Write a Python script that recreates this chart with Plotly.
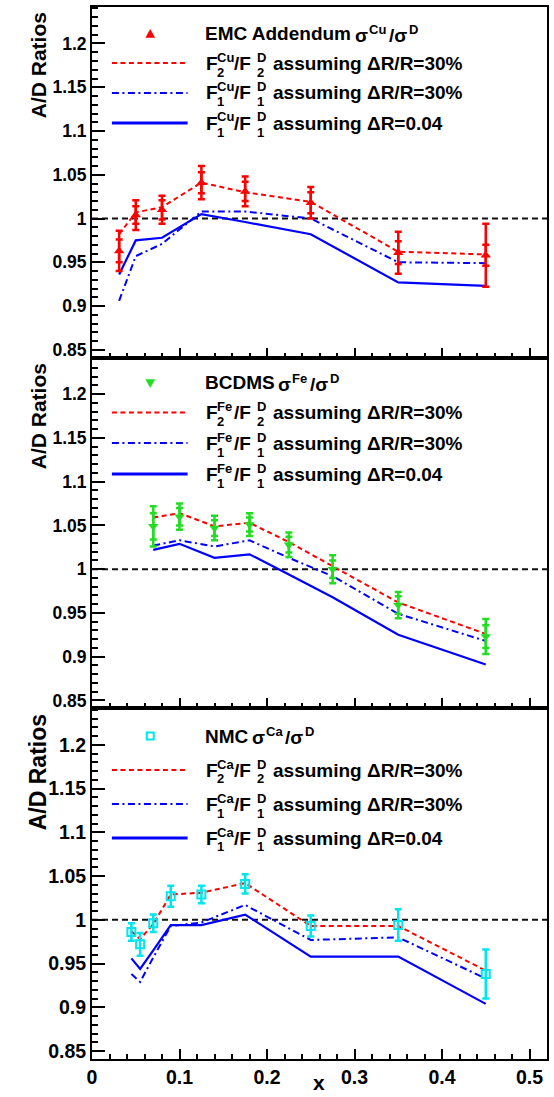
import plotly.graph_objects as go
from plotly.subplots import make_subplots

# ---------------- data ----------------
# Panel 1: EMC addendum, Cu/D
emc_x = [0.031, 0.05, 0.08, 0.125, 0.175, 0.25, 0.35, 0.45]
emc_ratio = [0.963, 1.004, 1.010, 1.041, 1.031, 1.018, 0.961, 0.958]
emc_err_tot = [0.023, 0.017, 0.016, 0.019, 0.017, 0.018, 0.024, 0.036]
emc_err_stat = [0.013, 0.010, 0.011, 0.012, 0.011, 0.012, 0.013, 0.012]
emc_f2 = [0.982, 1.007, 1.013, 1.041, 1.030, 1.019, 0.962, 0.959]
emc_f1_rel = [0.906, 0.957, 0.971, 1.008, 1.008, 1.000, 0.950, 0.949]
emc_f1_abs = [0.936, 0.975, 0.978, 1.005, 0.996, 0.982, 0.927, 0.923]

# Panel 2: BCDMS, Fe/D
bcdms_x = [0.07, 0.10, 0.14, 0.18, 0.225, 0.275, 0.35, 0.45]
bcdms_ratio = [1.049, 1.060, 1.047, 1.051, 1.028, 1.000, 0.959, 0.923]
bcdms_err_tot = [0.023, 0.015, 0.014, 0.013, 0.014, 0.016, 0.015, 0.020]
bcdms_err_stat = [0.015, 0.010, 0.009, 0.008, 0.009, 0.010, 0.010, 0.013]
bcdms_f2 = [1.059, 1.064, 1.049, 1.053, 1.031, 1.003, 0.962, 0.926]
bcdms_f1_rel = [1.027, 1.033, 1.026, 1.033, 1.013, 0.992, 0.949, 0.918]
bcdms_f1_abs = [1.022, 1.029, 1.013, 1.017, 0.994, 0.968, 0.925, 0.891]

# Panel 3: NMC, Ca/D
nmc_x = [0.045, 0.055, 0.07, 0.09, 0.125, 0.175, 0.25, 0.35, 0.45]
nmc_ratio = [0.986, 0.972, 0.996, 1.027, 1.029, 1.041, 0.993, 0.994, 0.938]
nmc_err = [0.010, 0.013, 0.010, 0.012, 0.010, 0.011, 0.012, 0.018, 0.028]
nmc_f2 = [0.987, 0.978, 0.995, 1.029, 1.031, 1.042, 0.993, 0.993, 0.942]
nmc_f1_rel = [0.938, 0.929, 0.957, 0.993, 0.997, 1.017, 0.977, 0.980, 0.933]
nmc_f1_abs = [0.956, 0.944, 0.965, 0.994, 0.994, 1.006, 0.958, 0.958, 0.904]

y_tick_vals = [0.85, 0.9, 0.95, 1.0, 1.05, 1.1, 1.15, 1.2]
y_tick_text = ["0.85", "0.9", "0.95", "1", "1.05", "1.1", "1.15", "1.2"]
x_tick_vals = [0, 0.1, 0.2, 0.3, 0.4, 0.5]
x_tick_text = ["0", "0.1", "0.2", "0.3", "0.4", "0.5"]

data_labels = ["EMC Addendum", "BCDMS", "NMC"]
nuclei = ["Cu", "Fe", "Ca"]

# ---------------- style ----------------
W, H = 554, 1097
ML, MR, MT, MB = 92, 5, 7, 38
PW = W - ML - MR
PH = H - MT - MB
FONT = "Liberation Sans, Arial, Helvetica, sans-serif"
RED = "#ff0000"
BLUE = "#0000ff"
GREEN = "#22dd22"
CYAN = "#00e5ee"
DASH_RED = "5px,3.5px"
DASH_BLUE = "7px,3.5px,2px,3.5px"


def pxx(xp):
    return (xp - ML) / PW


def pxy(yp):
    return (H - MB - yp) / PH


fig = make_subplots(rows=3, cols=1, shared_xaxes=True, vertical_spacing=0)

panels = [
    dict(x=emc_x, r=emc_ratio, et=emc_err_tot, es=emc_err_stat, f2=emc_f2,
         f1r=emc_f1_rel, f1a=emc_f1_abs, sym="triangle-up", col=RED, size=9),
    dict(x=bcdms_x, r=bcdms_ratio, et=bcdms_err_tot, es=bcdms_err_stat, f2=bcdms_f2,
         f1r=bcdms_f1_rel, f1a=bcdms_f1_abs, sym="triangle-down", col=GREEN, size=9),
    dict(x=nmc_x, r=nmc_ratio, et=nmc_err, es=None, f2=nmc_f2,
         f1r=nmc_f1_rel, f1a=nmc_f1_abs, sym="square-open", col=CYAN, size=8),
]

for i, p in enumerate(panels):
    row = i + 1
    fig.add_trace(go.Scatter(x=p["x"], y=p["f2"], mode="lines",
                             line=dict(color=RED, width=2, dash=DASH_RED)), row=row, col=1)
    fig.add_trace(go.Scatter(x=p["x"], y=p["f1r"], mode="lines",
                             line=dict(color=BLUE, width=2, dash=DASH_BLUE)), row=row, col=1)
    fig.add_trace(go.Scatter(x=p["x"], y=p["f1a"], mode="lines",
                             line=dict(color=BLUE, width=2.2)), row=row, col=1)
    if p["es"] is not None:
        fig.add_trace(go.Scatter(x=p["x"], y=p["r"], mode="markers",
                                 marker=dict(size=1, color=p["col"]),
                                 error_y=dict(type="data", array=p["es"], color=p["col"],
                                              thickness=2.5, width=3.5)), row=row, col=1)
    mk = dict(symbol=p["sym"], size=p["size"], color=p["col"])
    if p["sym"].endswith("open"):
        mk["line"] = dict(color=p["col"], width=2)
    fig.add_trace(go.Scatter(x=p["x"], y=p["r"], mode="markers", marker=mk,
                             error_y=dict(type="data", array=p["et"], color=p["col"],
                                          thickness=2.5, width=3.5)), row=row, col=1)
    # unity reference line
    fig.add_shape(type="line", xref=f"x{'' if row == 1 else row} domain",
                  yref=f"y{'' if row == 1 else row}", x0=0, x1=1, y0=1, y1=1,
                  line=dict(color="#111111", width=2, dash="6px,4px"), layer="below")

tick_sizes = [17.5, 17.5, 19.5]
for i in range(3):
    row = i + 1
    fig.update_yaxes(range=[0.841, 1.2417], tickvals=y_tick_vals, ticktext=y_tick_text,
                     ticks="inside", ticklen=13, tickwidth=2, tickcolor="black",
                     minor=dict(ticks="inside", ticklen=6, dtick=0.01, tickwidth=1.5,
                                tickcolor="black", showgrid=False),
                     showline=True, linewidth=2, linecolor="black", mirror=True,
                     showgrid=False, zeroline=False,
                     tickfont=dict(family=FONT, size=tick_sizes[i], color="black", weight="bold"),
                     row=row, col=1)
    xa = dict(range=[0, 0.52], ticks="inside", ticklen=10, tickwidth=2, tickcolor="black",
              minor=dict(ticks="inside", ticklen=5, dtick=0.02, tickwidth=1.5,
                         tickcolor="black", showgrid=False),
              showline=True, linewidth=2, linecolor="black", mirror=True,
              showgrid=False, zeroline=False)
    if row == 3:
        xa.update(tickvals=x_tick_vals, ticktext=x_tick_text, showticklabels=True,
                  tickfont=dict(family=FONT, size=19.5, color="black", weight="bold"))
    else:
        xa.update(tickmode="linear", tick0=0, dtick=0.1, showticklabels=False)
    fig.update_xaxes(row=row, col=1, **xa)

# ---------------- annotations / legends ----------------
ann = []


def text(xp, yp, s, size, anchor="left", color="black"):
    ann.append(dict(x=pxx(xp), y=pxy(yp), xref="paper", yref="paper", text=s,
                    showarrow=False, xanchor=anchor, yanchor="middle", borderpad=0,
                    font=dict(family=FONT, size=size, color=color, weight="bold")))


panel_tops = [7, 358, 709]
legend_rows = [[27, 56, 86, 116], [25, 54.5, 85, 116], [27, 61, 95, 129]]
title_sizes = [21, 21, 23]
# x positions of pieces in first legend row: sigma, nucleus sup, "/sigma", "D" sup
row1_pos = [[355, 369, 389, 409], [278, 292, 310, 330], [252, 266, 285, 305]]

for i in range(3):
    T = panel_tops[i]
    rows = [T + r for r in legend_rows[i]]
    nuc = nuclei[i]
    # y-axis title
    ann.append(dict(x=pxx(38), y=pxy(T + 3), xref="paper", yref="paper", text="A/D Ratios",
                    textangle=-90, showarrow=False, xanchor="center", yanchor="top",
                    font=dict(family=FONT, size=title_sizes[i], color="black", weight="bold")))
    # row 1: data
    ps = row1_pos[i]
    y1 = rows[0]
    text(204, y1, data_labels[i], 19)
    text(ps[0], y1 + 1, "σ", 19)
    text(ps[1], y1 - 5, nuc, 13)
    text(ps[2], y1 + 1, "/σ", 19)
    text(ps[3], y1 - 5, "D", 13)
    cx, cy = 150.5, rows[0]
    if i == 0:
        path = f"M{pxx(cx-4.5)},{pxy(cy+3.5)} L{pxx(cx+4.5)},{pxy(cy+3.5)} L{pxx(cx)},{pxy(cy-4.5)} Z"
        fig.add_shape(type="path", xref="paper", yref="paper", path=path,
                      fillcolor=RED, line=dict(color=RED, width=0.5))
    elif i == 1:
        path = f"M{pxx(cx-4.5)},{pxy(cy-3.5)} L{pxx(cx+4.5)},{pxy(cy-3.5)} L{pxx(cx)},{pxy(cy+4.5)} Z"
        fig.add_shape(type="path", xref="paper", yref="paper", path=path,
                      fillcolor=GREEN, line=dict(color=GREEN, width=0.5))
    else:
        fig.add_shape(type="rect", xref="paper", yref="paper",
                      x0=pxx(cx - 3.5), x1=pxx(cx + 3.5), y0=pxy(cy + 3.5), y1=pxy(cy - 3.5),
                      line=dict(color=CYAN, width=2))
    # rows 2-4
    specs = [("2", "assuming ΔR/R=30%", dict(color=RED, width=2, dash=DASH_RED)),
             ("1", "assuming ΔR/R=30%", dict(color=BLUE, width=2, dash=DASH_BLUE)),
             ("1", "assuming ΔR=0.04", dict(color=BLUE, width=3))]
    for (sub, tail, ln), yr in zip(specs, rows[1:]):
        fig.add_shape(type="line", xref="paper", yref="paper",
                      x0=pxx(112), x1=pxx(188), y0=pxy(yr), y1=pxy(yr), line=ln)
        text(205, yr, "F", 19)
        text(217, yr - 6, nuc, 13)
        text(217, yr + 9, sub, 13)
        text(234, yr, "/F", 19)
        text(257, yr - 6, "D", 13)
        text(257, yr + 9, sub, 13)
        text(273, yr, tail, 19)

# x-axis title
ann.append(dict(x=pxx(320), y=pxy(1096), xref="paper", yref="paper", text="x",
                showarrow=False, xanchor="center", yanchor="bottom",
                font=dict(family=FONT, size=21, color="black", weight="bold")))

fig.update_layout(width=W, height=H, margin=dict(l=ML, r=MR, t=MT, b=MB),
                  paper_bgcolor="white", plot_bgcolor="white", showlegend=False,
                  annotations=ann, font=dict(family=FONT))

fig.write_html("out.html")
